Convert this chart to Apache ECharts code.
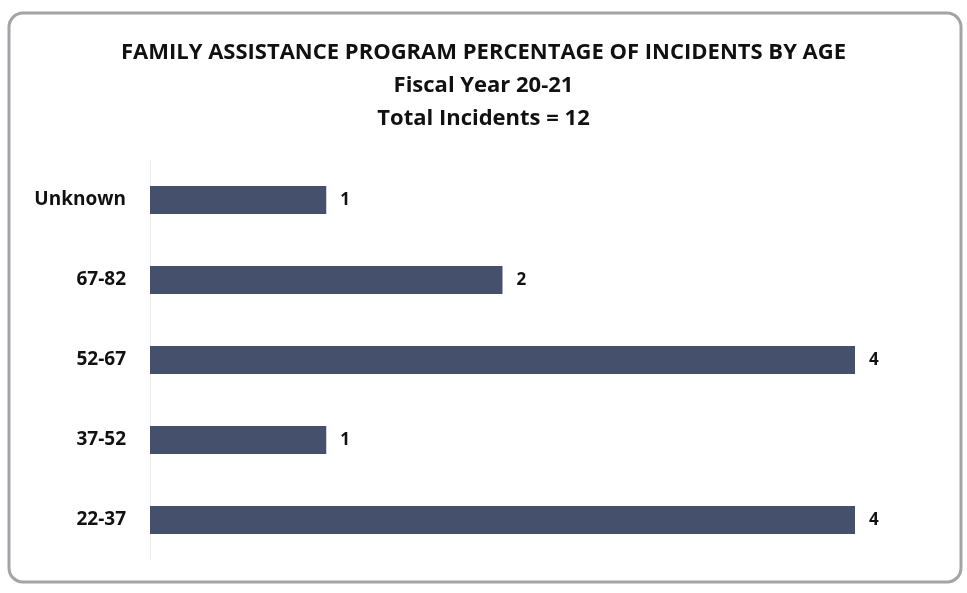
<!DOCTYPE html>
<html>
<head>
<meta charset="utf-8">
<script src="https://cdn.jsdelivr.net/npm/echarts@6/dist/echarts.min.js"></script>
<style>
html,body{margin:0;padding:0;background:#fff;}
#chart{width:967px;height:593px;}
</style>
</head>
<body>
<div id="chart"></div>
<script>
const categories = ['22-37', '37-52', '52-67', '67-82', 'Unknown'];
const values = [4, 1, 4, 2, 1];
const titleLines = ['FAMILY ASSISTANCE PROGRAM PERCENTAGE OF INCIDENTS BY AGE', 'Fiscal Year 20-21', 'Total Incidents = 12'];

const FONT = "'Open Sans', sans-serif";
const chart = echarts.init(document.getElementById('chart'));
chart.setOption({
  backgroundColor: '#fff',
  animation: false,
  graphic: [{
    type: 'rect',
    shape: { x: 9, y: 13, width: 952, height: 569, r: 14 },
    style: { fill: 'none', stroke: '#a4a4a8', lineWidth: 3 },
    z: -10
  }],
  title: {
    text: titleLines.join('\n'),
    left: 'center',
    top: 31,
    textStyle: { fontFamily: FONT, fontWeight: 'bold', fontSize: 22, lineHeight: 33, color: '#111' }
  },
  grid: { left: 150, right: 112, top: 160, bottom: 33, containLabel: false },
  xAxis: {
    type: 'value', min: 0, max: 4, show: false
  },
  yAxis: {
    type: 'category',
    data: categories,
    axisLine: { show: true, lineStyle: { color: '#ececec', width: 1 } },
    axisTick: { show: false },
    axisLabel: { fontFamily: FONT, fontWeight: 'bold', fontSize: 19, color: '#111', margin: 24 }
  },
  series: [{
    type: 'bar',
    data: values,
    barWidth: 28,
    itemStyle: { color: '#44506c' },
    label: { show: true, position: 'right', distance: 14, fontFamily: FONT, fontWeight: 'bold', fontSize: 17, color: '#111' }
  }]
});
</script>
</body>
</html>
